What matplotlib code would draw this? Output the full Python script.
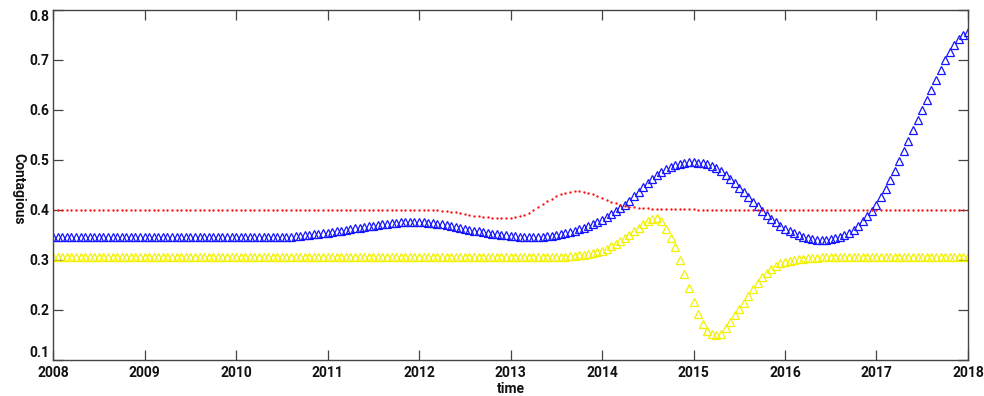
import numpy as np
import matplotlib.pyplot as plt

# contagion level, sampled every 0.05 year from 2008.00 to 2018.00 (201 points)
blue = [
    # 2008.00 - 2008.95
    0.345, 0.345, 0.345, 0.345, 0.345, 0.345, 0.345, 0.345, 0.345, 0.345,
    0.345, 0.345, 0.345, 0.345, 0.345, 0.345, 0.345, 0.345, 0.345, 0.345,
    # 2009
    0.345, 0.345, 0.345, 0.345, 0.345, 0.345, 0.345, 0.345, 0.345, 0.345,
    0.345, 0.345, 0.345, 0.345, 0.345, 0.345, 0.345, 0.345, 0.345, 0.345,
    # 2010
    0.345, 0.345, 0.345, 0.345, 0.345, 0.345, 0.345, 0.345, 0.345, 0.345,
    0.345, 0.346, 0.346, 0.347, 0.348, 0.349, 0.350, 0.351, 0.352, 0.353,
    # 2011
    0.354, 0.355, 0.357, 0.358, 0.360, 0.361, 0.363, 0.364, 0.366, 0.367,
    0.368, 0.370, 0.371, 0.372, 0.373, 0.374, 0.375, 0.376, 0.376, 0.376,
    # 2012
    0.376, 0.375, 0.374, 0.373, 0.372, 0.371, 0.370, 0.368, 0.366, 0.364,
    0.362, 0.360, 0.358, 0.357, 0.356, 0.354, 0.352, 0.351, 0.350, 0.349,
    # 2013
    0.348, 0.347, 0.346, 0.345, 0.345, 0.345, 0.345, 0.346, 0.347, 0.348,
    0.350, 0.352, 0.354, 0.356, 0.358, 0.361, 0.364, 0.368, 0.372, 0.376,
    # 2014
    0.380, 0.385, 0.391, 0.397, 0.403, 0.410, 0.418, 0.427, 0.436, 0.445,
    0.454, 0.462, 0.470, 0.476, 0.481, 0.486, 0.490, 0.492, 0.494, 0.495,
    # 2015
    0.495, 0.494, 0.493, 0.491, 0.488, 0.483, 0.477, 0.470, 0.462, 0.453,
    0.444, 0.435, 0.425, 0.416, 0.407, 0.398, 0.390, 0.382, 0.375, 0.368,
    # 2016
    0.362, 0.357, 0.353, 0.349, 0.346, 0.343, 0.341, 0.340, 0.340, 0.340,
    0.341, 0.343, 0.345, 0.349, 0.354, 0.360, 0.368, 0.377, 0.387, 0.398,
    # 2017
    0.410, 0.425, 0.441, 0.459, 0.478, 0.497, 0.517, 0.538, 0.560, 0.580,
    0.600, 0.620, 0.640, 0.660, 0.680, 0.700, 0.716, 0.730, 0.741, 0.750,
    # 2018.00
    0.756,
]

yellow = [
    # 2008
    0.305, 0.305, 0.305, 0.305, 0.305, 0.305, 0.305, 0.305, 0.305, 0.305,
    0.305, 0.305, 0.305, 0.305, 0.305, 0.305, 0.305, 0.305, 0.305, 0.305,
    # 2009
    0.305, 0.305, 0.305, 0.305, 0.305, 0.305, 0.305, 0.305, 0.305, 0.305,
    0.305, 0.305, 0.305, 0.305, 0.305, 0.305, 0.305, 0.305, 0.305, 0.305,
    # 2010
    0.305, 0.305, 0.305, 0.305, 0.305, 0.305, 0.305, 0.305, 0.305, 0.305,
    0.305, 0.305, 0.305, 0.305, 0.305, 0.305, 0.305, 0.305, 0.305, 0.305,
    # 2011
    0.305, 0.305, 0.305, 0.305, 0.305, 0.305, 0.305, 0.305, 0.305, 0.305,
    0.305, 0.305, 0.305, 0.305, 0.305, 0.305, 0.305, 0.305, 0.305, 0.305,
    # 2012
    0.305, 0.305, 0.305, 0.305, 0.305, 0.305, 0.305, 0.305, 0.305, 0.305,
    0.305, 0.305, 0.305, 0.305, 0.305, 0.305, 0.305, 0.305, 0.305, 0.305,
    # 2013
    0.305, 0.305, 0.305, 0.305, 0.305, 0.305, 0.305, 0.305, 0.305, 0.305,
    0.305, 0.305, 0.306, 0.307, 0.308, 0.309, 0.310, 0.312, 0.313, 0.315,
    # 2014
    0.318, 0.322, 0.327, 0.332, 0.338, 0.344, 0.350, 0.357, 0.364, 0.371,
    0.377, 0.382, 0.384, 0.378, 0.362, 0.343, 0.325, 0.300, 0.272, 0.243,
    # 2015
    0.216, 0.192, 0.172, 0.158, 0.151, 0.149, 0.152, 0.163, 0.176, 0.189,
    0.201, 0.213, 0.227, 0.241, 0.254, 0.265, 0.274, 0.282, 0.288, 0.293,
    # 2016
    0.296, 0.298, 0.300, 0.301, 0.302, 0.303, 0.304, 0.304, 0.305, 0.305,
    0.305, 0.305, 0.305, 0.305, 0.305, 0.305, 0.305, 0.305, 0.305, 0.305,
    # 2017
    0.305, 0.305, 0.305, 0.305, 0.305, 0.305, 0.305, 0.305, 0.305, 0.305,
    0.305, 0.305, 0.305, 0.305, 0.305, 0.305, 0.305, 0.305, 0.305, 0.305,
    # 2018.00
    0.305,
]

red = [
    # 2008
    0.400, 0.400, 0.400, 0.400, 0.400, 0.400, 0.400, 0.400, 0.400, 0.400,
    0.400, 0.400, 0.400, 0.400, 0.400, 0.400, 0.400, 0.400, 0.400, 0.400,
    # 2009
    0.400, 0.400, 0.400, 0.400, 0.400, 0.400, 0.400, 0.400, 0.400, 0.400,
    0.400, 0.400, 0.400, 0.400, 0.400, 0.400, 0.400, 0.400, 0.400, 0.400,
    # 2010
    0.400, 0.400, 0.400, 0.400, 0.400, 0.400, 0.400, 0.400, 0.400, 0.400,
    0.400, 0.400, 0.400, 0.400, 0.400, 0.400, 0.400, 0.400, 0.400, 0.400,
    # 2011
    0.400, 0.400, 0.400, 0.400, 0.400, 0.400, 0.400, 0.400, 0.400, 0.400,
    0.400, 0.400, 0.400, 0.400, 0.400, 0.400, 0.400, 0.400, 0.400, 0.400,
    # 2012
    0.400, 0.400, 0.400, 0.400, 0.399, 0.398, 0.397, 0.396, 0.395, 0.393,
    0.392, 0.390, 0.388, 0.387, 0.386, 0.385, 0.384, 0.384, 0.383, 0.383,
    # 2013
    0.384, 0.385, 0.387, 0.390, 0.394, 0.399, 0.405, 0.411, 0.417, 0.422,
    0.427, 0.431, 0.434, 0.436, 0.437, 0.437, 0.436, 0.434, 0.431, 0.428,
    # 2014
    0.424, 0.420, 0.416, 0.413, 0.410, 0.408, 0.406, 0.405, 0.404, 0.403,
    0.403, 0.402, 0.402, 0.402, 0.401, 0.401, 0.401, 0.401, 0.401, 0.401,
    # 2015
    0.401, 0.400, 0.400, 0.400, 0.400, 0.400, 0.400, 0.400, 0.400, 0.400,
    0.400, 0.400, 0.400, 0.400, 0.400, 0.400, 0.400, 0.400, 0.400, 0.400,
    # 2016
    0.400, 0.400, 0.400, 0.400, 0.400, 0.400, 0.400, 0.400, 0.400, 0.400,
    0.400, 0.400, 0.400, 0.400, 0.400, 0.400, 0.400, 0.400, 0.400, 0.400,
    # 2017
    0.400, 0.400, 0.400, 0.400, 0.400, 0.400, 0.400, 0.400, 0.400, 0.400,
    0.400, 0.400, 0.400, 0.400, 0.400, 0.400, 0.400, 0.400, 0.400, 0.400,
    # 2018.00
    0.400,
]

years = list(range(2008, 2019))
yticks = [0.1, 0.2, 0.3, 0.4, 0.5, 0.6, 0.7, 0.8]

t = np.linspace(2008, 2018, len(blue))

plt.rcParams['font.family'] = ['Roboto', 'DejaVu Sans']

fig = plt.figure(figsize=(9.84, 3.96), dpi=100)
ax = fig.add_axes([0.054, 0.091, 0.9297, 0.8838])

tri = dict(marker='^', linestyle='none', markersize=6.2,
           fillstyle='none', markeredgewidth=0.9)
ax.plot(t, blue, color='#1414ff', **tri)
ax.plot(t, yellow, color='#f2f200', **tri)
ax.plot(t, red, color='#ff1010', marker='o', linestyle='none',
        markersize=1.7, markeredgewidth=0)

ax.set_xlim(2008, 2018)
ax.set_ylim(0.1, 0.8)
ax.set_xticks(years)
ax.set_yticks(yticks)
ax.set_xticklabels([str(y) for y in years])
ax.set_yticklabels(['%.1f' % v for v in yticks])

ax.tick_params(direction='in', length=7, width=0.9, color='#444444',
               top=True, right=True, labelsize=10, labelcolor='#111111', pad=4)
ax.tick_params(axis='y', pad=3)
ylabs = ax.get_yticklabels()
for lab in ax.get_xticklabels() + ylabs:
    lab.set_fontweight('bold')
# end labels sit inside the axis range
ylabs[0].set_va('bottom')
ylabs[-1].set_va('top')

for s in ax.spines.values():
    s.set_color('#444444')
    s.set_linewidth(1.0)

ax.set_xlabel('time', fontsize=10, color='#111111', labelpad=2,
              fontweight='bold')
ax.set_ylabel('Contagious', fontsize=10, color='#111111', rotation=270,
              fontweight='bold')
ax.yaxis.set_label_coords(-0.046, 0.49)

fig.savefig('out.png', dpi=100)
